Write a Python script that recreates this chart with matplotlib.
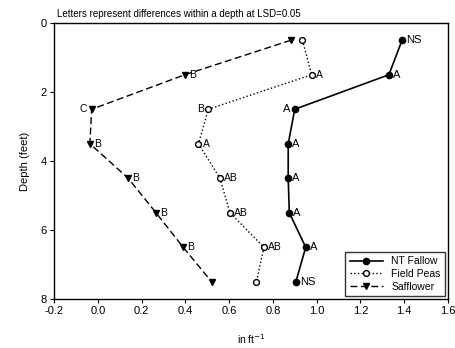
import matplotlib
matplotlib.use("Agg")
import matplotlib.pyplot as plt

plt.rcParams['font.family'] = ['Liberation Sans', 'DejaVu Sans']

depth = [0.5, 1.5, 2.5, 3.5, 4.5, 5.5, 6.5, 7.5]
nt_fallow = [1.39, 1.33, 0.90, 0.87, 0.87, 0.875, 0.95, 0.905]
field_peas = [0.935, 0.977, 0.505, 0.46, 0.558, 0.604, 0.759, 0.725]
safflower = [0.882, 0.398, -0.028, -0.036, 0.139, 0.266, 0.39, 0.52]

nt_letters = ["NS", "A", "A", "A", "A", "A", "A", "NS"]
nt_sides = ["r", "r", "l", "r", "r", "r", "r", "r"]
fp_letters = ["", "A", "B", "A", "AB", "AB", "AB", ""]
fp_sides = ["r", "r", "l", "r", "r", "r", "r", "r"]
sf_letters = ["", "B", "C", "B", "B", "B", "B", ""]
sf_sides = ["r", "r", "l", "r", "r", "r", "r", "r"]

fig = plt.figure(figsize=(4.56, 3.48), dpi=100)
ax = fig.add_axes([54/456, 1-299/348, (448-54)/456, (299-23)/348])

ax.plot(nt_fallow, depth, '-', color='black', lw=1.2, marker='o', ms=4.5,
        mfc='black', mec='black', label='NT Fallow')
ax.plot(field_peas, depth, ':', color='black', lw=1.0, marker='o', ms=4.2,
        mfc='white', mec='black', label='Field Peas')
ax.plot(safflower, depth, '--', color='black', lw=1.0, marker='v', ms=5,
        mfc='black', mec='black', dashes=(5, 2.5), label='Safflower')


def annotate(xs, labels, sides, fs):
    for x, y, t, s in zip(xs, depth, labels, sides):
        if not t:
            continue
        if s == "r":
            ax.annotate(t, (x, y), xytext=(3, 0), textcoords='offset points',
                        ha='left', va='center', fontsize=fs)
        else:
            ax.annotate(t, (x, y), xytext=(-3, 0), textcoords='offset points',
                        ha='right', va='center', fontsize=fs)


annotate(nt_fallow, nt_letters, nt_sides, 8)
annotate(field_peas, fp_letters, fp_sides, 7.5)
annotate(safflower, sf_letters, sf_sides, 7.5)

ax.set_xlim(-0.2, 1.6)
ax.set_ylim(8, 0)
ax.set_xticks([-0.2, 0.0, 0.2, 0.4, 0.6, 0.8, 1.0, 1.2, 1.4, 1.6])
ax.set_xticklabels(['-0.2', '0.0', '0.2', '0.4', '0.6', '0.8', '1.0', '1.2', '1.4', '1.6'])
ax.set_yticks([0, 2, 4, 6, 8])
ax.tick_params(axis='both', labelsize=8, length=3, width=0.8, direction='out', pad=2)
for sp in ax.spines.values():
    sp.set_linewidth(1.0)

ax.set_xlabel('in ft$^{-1}$', fontsize=7.5, labelpad=12)
ax.set_ylabel('Depth (feet)', fontsize=8, labelpad=8)
fig.text(57/456, 1-14/348, 'Letters represent differences within a depth at LSD=0.05',
         fontsize=7, ha='left', va='center')

leg = ax.legend(loc='lower right', fontsize=7.5, frameon=True, fancybox=False,
                edgecolor='black', handlelength=3.2, borderaxespad=0.3,
                labelspacing=0.25, borderpad=0.4)
leg.get_frame().set_linewidth(1.0)

fig.savefig('out.png', dpi=100)
